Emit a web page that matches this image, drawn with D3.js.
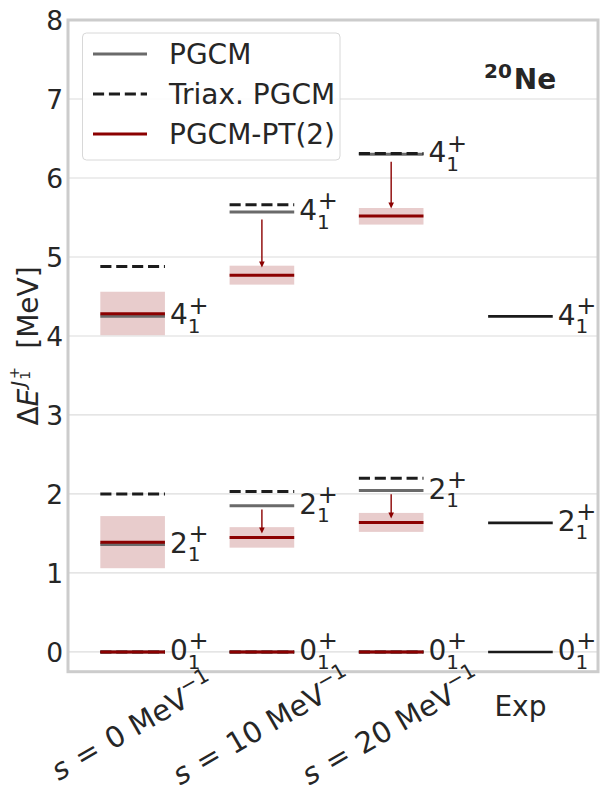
<!DOCTYPE html>
<html>
<head>
<meta charset="utf-8">
<script src="https://cdn.jsdelivr.net/npm/d3@7"></script>
<style>
  html, body { margin: 0; padding: 0; background: #fff; }
  svg { display: block; font-family: "DejaVu Sans", sans-serif; }
</style>
</head>
<body>
<svg id="chart" width="600" height="793"></svg>
<script>
// ---------------- data ----------------
const columns = ["s0", "s10", "s20", "Exp"];
const columnSValues = ["0", "10", "20"];
const states = ["0", "2", "4"];
const pgcm    = [[0, 1.36, 4.25], [0, 1.85, 5.57], [0, 2.045, 6.30]];
const triax   = [[0, 2.00, 4.88], [0, 2.03, 5.66], [0, 2.20, 6.31]];
const pt2     = [[0, 1.39, 4.28], [0, 1.45, 4.77], [0, 1.64, 5.52]];
const pt2Low  = [[0, 1.06, 4.01], [0, 1.32, 4.65], [0, 1.52, 5.41]];
const pt2High = [[0, 1.72, 4.56], [0, 1.58, 4.89], [0, 1.76, 5.62]];
const expValues = [0, 1.634, 4.248];
const arrowColumns = [1, 2];
const arrowStates = [1, 2];
const yTicks = [0, 1, 2, 3, 4, 5, 6, 7, 8];
const legendLabels = ["PGCM", "Triax. PGCM", "PGCM-PT(2)"];

// ---------------- layout ----------------
const svg = d3.select("#chart");
const x = d3.scaleLinear().domain([-0.5, 3.6]).range([68, 598]);
const y = d3.scaleLinear().domain([-0.25, 8]).range([671.7, 20]);
const halfW = 0.25;
const txt = "#262626";
const red = "#8b0000";
const grey = "#6a6a6a";
const dash = "#1c1c1c";

// grid
svg.append("g").selectAll("line").data(yTicks.filter(d => d < 8)).join("line")
  .attr("x1", x(-0.5)).attr("x2", x(3.6))
  .attr("y1", d => y(d)).attr("y2", d => y(d))
  .attr("stroke", "#dcdcdc").attr("stroke-width", 1.2);

// y axis labels via d3 axis
const yAxis = d3.axisLeft(y).tickValues(yTicks).tickSize(0).tickPadding(5).tickFormat(d3.format("d"));
const yg = svg.append("g").attr("transform", `translate(${x(-0.5)},0)`).call(yAxis);
yg.select(".domain").remove();
yg.selectAll("text").attr("font-size", 26.5).attr("fill", txt)
  .attr("font-family", "DejaVu Sans").attr("dy", "0.36em");

// frame
svg.append("rect").attr("x", x(-0.5)).attr("y", y(8)).attr("width", x(3.6) - x(-0.5))
  .attr("height", y(-0.25) - y(8)).attr("fill", "none").attr("stroke", "#cccccc").attr("stroke-width", 3);

// ---------------- levels ----------------
const g = svg.append("g");
for (let c = 0; c < 3; c++) {
  for (let s = 0; s < states.length; s++) {
    const x1 = x(c - halfW), x2 = x(c + halfW);
    if (pt2High[c][s] > pt2Low[c][s]) {
      g.append("rect").attr("x", x1).attr("width", x2 - x1)
        .attr("y", y(pt2High[c][s])).attr("height", y(pt2Low[c][s]) - y(pt2High[c][s]))
        .attr("fill", red).attr("fill-opacity", 0.2);
    }
    g.append("line").attr("x1", x1).attr("x2", x2).attr("y1", y(pgcm[c][s])).attr("y2", y(pgcm[c][s]))
      .attr("stroke", grey).attr("stroke-width", 3);
    g.append("line").attr("x1", x1).attr("x2", x2).attr("y1", y(triax[c][s])).attr("y2", y(triax[c][s]))
      .attr("stroke", dash).attr("stroke-width", 3).attr("stroke-dasharray", "11.1,4.8");
    g.append("line").attr("x1", x1).attr("x2", x2).attr("y1", y(pt2[c][s])).attr("y2", y(pt2[c][s]))
      .attr("stroke", red).attr("stroke-width", 3);
  }
}
// Exp
for (let s = 0; s < states.length; s++) {
  g.append("line").attr("x1", x(3 - halfW)).attr("x2", x(3 + halfW))
    .attr("y1", y(expValues[s])).attr("y2", y(expValues[s]))
    .attr("stroke", "#1a1a1a").attr("stroke-width", 2.6);
}

// arrows
const shrink = 0.12;
arrowColumns.forEach(c => arrowStates.forEach(s => {
  const a = pgcm[c][s], b = pt2[c][s];
  const y1 = y(a - shrink * (a - b)), y2 = y(b + shrink * (a - b));
  const xc = x(c);
  g.append("line").attr("x1", xc).attr("x2", xc).attr("y1", y1).attr("y2", y2 - 5)
    .attr("stroke", red).attr("stroke-width", 1.4);
  g.append("path").attr("d", `M${xc - 2.8},${y2 - 6} L${xc + 2.8},${y2 - 6} L${xc},${y2} Z`)
    .attr("fill", red);
}));

// state labels
function stateLabel(xPos, val, st) {
  const base = y(val) + 8.2;
  const t = svg.append("text").attr("x", xPos).attr("y", base).attr("fill", txt).attr("font-size", 28);
  t.append("tspan").text(st);
  t.append("tspan").attr("font-size", 20).attr("dy", 8.4).text("1");
  t.append("tspan").attr("font-size", 24).attr("dx", -12).attr("dy", -19.2).text("+");
}
for (let c = 0; c < 3; c++) {
  for (let s = 0; s < states.length; s++) stateLabel(x(c + halfW) + 5, pgcm[c][s], states[s]);
}
for (let s = 0; s < states.length; s++) stateLabel(x(3 + halfW) + 5, expValues[s], states[s]);

// ---------------- x tick labels ----------------
columnSValues.forEach((sv, i) => {
  const t = svg.append("text").attr("x", 0).attr("y", 0).attr("fill", txt)
    .attr("font-size", 29).attr("text-anchor", "middle");
  t.append("tspan").attr("font-style", "italic").text("s");
  t.append("tspan").attr("dx", 2).text(" = ");
  t.append("tspan").attr("dx", 2).text(sv + " MeV");
  t.append("tspan").attr("font-size", 20.5).attr("dy", -12.5).text("\u22121");
  const bb = t.node().getBBox();
  t.attr("transform", `translate(${x(i) - 1},725) rotate(-30) translate(${-(bb.x + bb.width / 2)},${-(bb.y + bb.height / 2)})`);
});
svg.append("text").attr("x", x(3)).attr("y", 716).attr("text-anchor", "middle")
  .attr("font-size", 28).attr("fill", txt).text(columns[3]);

// ---------------- y label ----------------
const yl = svg.append("text").attr("fill", txt).attr("font-size", 28).attr("text-anchor", "middle")
  .attr("transform", "translate(37.5,346) rotate(-90)");
yl.append("tspan").text("\u0394");
yl.append("tspan").attr("font-style", "italic").text("E");
yl.append("tspan").attr("font-style", "italic").attr("font-size", 20).attr("dy", -12.5).attr("dx", 2).text("J");
yl.append("tspan").attr("font-size", 14).attr("dy", 5).attr("dx", 1).text("1");
yl.append("tspan").attr("font-size", 14.5).attr("dx", -8).attr("dy", -11.5).text("+");
yl.append("tspan").attr("dy", 19).attr("dx", 18).text("[MeV]");

// ---------------- title ----------------
const tt = svg.append("text").attr("x", 484).attr("y", 89).attr("fill", txt).attr("font-weight", "bold");
tt.append("tspan").attr("font-size", 20).attr("dy", -10.7).text("20");
tt.append("tspan").attr("font-size", 28).attr("dy", 10.7).attr("dx", 2).text("Ne");

// ---------------- legend ----------------
const lg = svg.append("g");
lg.append("rect").attr("x", 82.5).attr("y", 33).attr("width", 257.5).attr("height", 127).attr("rx", 4)
  .attr("fill", "#fff").attr("fill-opacity", 0.85).attr("stroke", "#d8d8d8").attr("stroke-width", 1);
const legStyles = [
  { color: grey, dashArr: null },
  { color: dash, dashArr: "11.1,4.8" },
  { color: red, dashArr: null }
];
legendLabels.forEach((lab, i) => {
  const ly = 54 + 40 * i;
  lg.append("line").attr("x1", 93).attr("x2", 147).attr("y1", ly).attr("y2", ly)
    .attr("stroke", legStyles[i].color).attr("stroke-width", 3)
    .attr("stroke-dasharray", legStyles[i].dashArr);
  lg.append("text").attr("x", 169).attr("y", ly + 10).attr("font-size", 28).attr("fill", txt).text(lab);
});
</script>
</body>
</html>
